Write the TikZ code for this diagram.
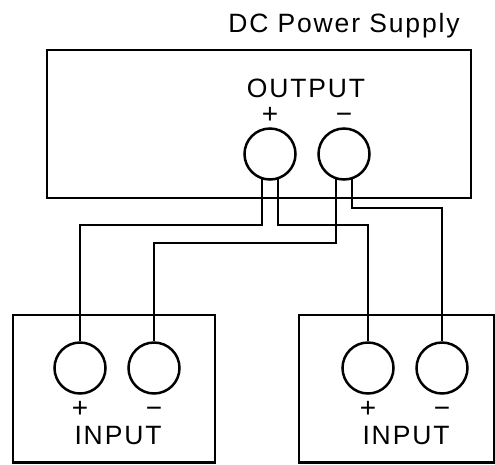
\documentclass[tikz,border=0pt]{standalone}
\usepackage{fontspec}
\setmainfont{Liberation Sans}
\newfontfamily\lblfont[LetterSpace=7]{Liberation Sans}
\usetikzlibrary{calc}
\begin{document}
\begin{tikzpicture}[x=1pt,y=-1pt,
  wire/.style={line width=2.5pt,line join=miter},
  box/.style={line width=2.5pt},
  term/.style={circle,draw,line width=2.5pt,minimum size=51pt,inner sep=0pt},
  lbl/.style={anchor=base,inner sep=0pt,font=\lblfont\fontsize{26.5}{30}\selectfont},
  sgn/.style={inner sep=0pt,text height=18pt,text depth=0pt,font=\fontsize{28}{30}\selectfont}]
\useasboundingbox (0,0) rectangle (495,464);
% boxes
\draw[box] (47,50) rectangle (471,198);
\draw[box] (13,315) rectangle (215,462.5);
\draw[box] (299,315) rectangle (494,462.5);
% texts
\node[lbl] (title) at (344,32) {DC Power Supply};
\node[lbl] (outl) at (306,97) {OUTPUT};
\node[lbl] (inl) at (118,444) {INPUT};
\node[lbl] (inr) at (406,444) {INPUT};
% terminals
\node[term] (op) at (270,154) {};
\node[term] (om) at (344,154) {};
\node[term] (lp) at (80,368) {};
\node[term] (lm) at (154,368) {};
\node[term] (rp) at (368,368) {};
\node[term] (rm) at (442,368) {};
% signs
\node[sgn] (opS) at (270,114.5) {+};
\node[sgn] (omS) at (344,114.5) {\char"2212};
\node[sgn] (lpS) at (80,408) {+};
\node[sgn] (lmS) at (154,408) {\char"2212};
\node[sgn] (rpS) at (368,408) {+};
\node[sgn] (rmS) at (442,408) {\char"2212};
% wires
\draw[wire] ($(op.center)+(-8,24.2)$) coordinate (a1) -- (a1 |- 0,225) -| (lp.north);
\draw[wire] ($(op.center)+(8,24.2)$) coordinate (a2) -- (a2 |- 0,225) -| (rp.north);
\draw[wire] ($(om.center)+(-8,24.2)$) coordinate (b1) -- (b1 |- 0,243) -| (lm.north);
\draw[wire] ($(om.center)+(8,24.2)$) coordinate (b2) -- (b2 |- 0,208) -| (rm.north);
\end{tikzpicture}
\end{document}
